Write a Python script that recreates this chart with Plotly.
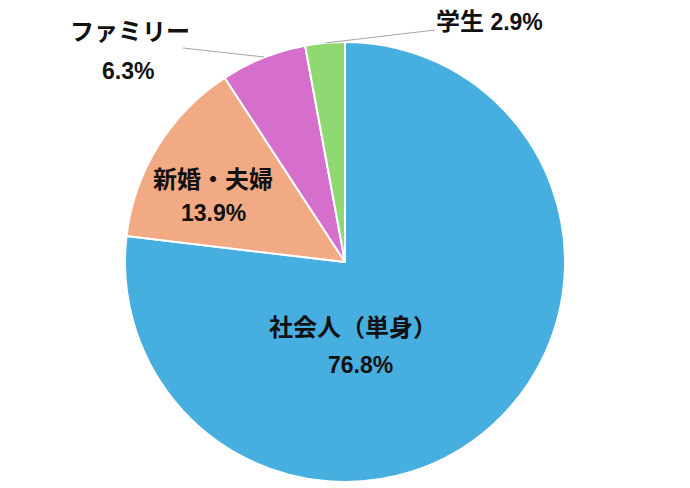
import plotly.graph_objects as go

labels = ["社会人（単身）", "新婚・夫婦", "ファミリー", "学生"]
values = [76.8, 13.9, 6.3, 2.9]
colors = ["#46AFE0", "#F2AA84", "#D66ECB", "#90D872"]

W, H = 690, 488
def px(x, y):
    return x / W, 1 - y / H

FONT = "Liberation Sans, Noto Sans CJK JP, sans-serif"

fig = go.Figure(go.Pie(
    labels=labels, values=values, sort=False, direction="clockwise", rotation=0,
    marker=dict(colors=colors, line=dict(color="white", width=2)),
    textinfo="none", hoverinfo="label+percent", showlegend=False,
    domain=dict(x=[125 / W, 565 / W], y=[1 - 482 / H, 1 - 42 / H]),
))

ann = [
    (labels[0], 353, 327, 24),
    (f"{values[0]}%", 360, 365, 23),
    (labels[1], 213, 179, 24),
    (f"{values[1]}%", 213, 213, 23),
    (labels[2], 130, 32, 24),
    (f"{values[2]}%", 128, 71, 23),
    (f"<span style='font-size:24px'>{labels[3]}</span> {values[3]}%", 489, 22, 23),
]
annotations = []
for t, x, y, s in ann:
    ax, ay = px(x, y)
    annotations.append(dict(text=f"<b>{t}</b>", x=ax, y=ay, xref="paper", yref="paper",
                            showarrow=False, xanchor="center", yanchor="middle",
                            font=dict(family=FONT, size=s, color="#111111")))

shapes = []
for (x0, y0, x1, y1) in [(183, 48, 264, 57), (325, 43, 435, 30)]:
    a0, b0 = px(x0, y0)
    a1, b1 = px(x1, y1)
    shapes.append(dict(type="line", xref="paper", yref="paper", x0=a0, y0=b0, x1=a1, y1=b1,
                       line=dict(color="#A6A6A6", width=1)))

fig.update_layout(width=W, height=H, margin=dict(l=0, r=0, t=0, b=0),
                  paper_bgcolor="white", plot_bgcolor="white",
                  annotations=annotations, shapes=shapes)
fig.write_html("out.html", config={"displayModeBar": False},
               post_script="document.body.style.margin='0';document.body.style.overflow='hidden';")
